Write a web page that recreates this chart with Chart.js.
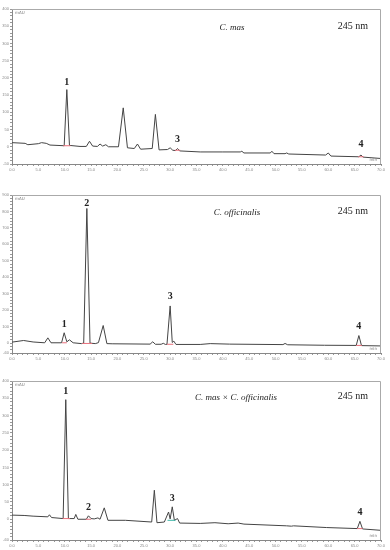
<!DOCTYPE html>
<html>
<head>
<meta charset="utf-8">
<script src="https://cdn.jsdelivr.net/npm/chart.js@4"></script>
<style>
  body { margin: 0; background: #fff; width: 390px; height: 550px; position: relative; overflow: hidden; }
  canvas { position: absolute; left: 0; }
</style>
</head>
<body>
<canvas id="c1" width="390" height="180" style="top:0px"></canvas>
<canvas id="c2" width="390" height="180" style="top:182px"></canvas>
<canvas id="c3" width="390" height="182" style="top:368px"></canvas>
<script>
// retention time (min) and signal (mAU)
const timeMas = [0, 2.5, 3.0, 5.0, 5.6, 6.5, 7.2, 9.9, 10.4, 10.9, 12.9, 14.1, 14.7, 15.3, 16.2, 16.7, 17.2, 17.8, 18.3, 20.2, 21.1, 21.9, 23.2, 23.8, 24.4, 26.6, 27.2, 27.9, 29.5, 30.0, 30.5, 31.0, 31.4, 31.8, 35.7, 40, 43.3, 43.6, 44.0, 49.0, 49.3, 49.7, 51.8, 52.1, 52.5, 59.5, 60.0, 60.5, 65.8, 66.2, 66.6, 70];
const mauMas  = [12, 10, 6, 9, 12, 10, 5, 3, 166, 4, 1, 1, 16, 2, 1, 8, 2, 6, 0, 0, 113, -3, -5, 8, -7, -5, 94, -9, -8, -3, -10, -11, -5, -12, -15, -15, -15, -13, -18, -18, -13, -20, -20, -18, -21, -24, -18, -27, -29, -24, -30, -34];

const timeOff = [0, 2.2, 4.0, 6.2, 6.8, 7.4, 9.4, 9.9, 10.4, 10.9, 11.6, 13.2, 13.6, 14.2, 14.8, 15.8, 16.4, 17.3, 18.0, 19.0, 26.2, 26.7, 27.2, 28.3, 28.7, 29.1, 29.4, 30.0, 30.4, 30.7, 31.1, 35.7, 37.6, 41.3, 51.4, 51.8, 52.3, 59.3, 65.3, 65.8, 66.3, 70];
const mauOff  = [6, 16, 7, 2, 32, 2, 2, 63, 8, 20, 2, -3, 0, 818, 0, -3, 3, 107, -3, -4, -6, 8, -7, -7, -1, -8, -7, 226, 4, 12, -8, -8, -3, -6, -9, -2, -10, -13, -14, 46, -15, -17];

const timeHyb = [0, 2.3, 4.0, 6.8, 7.1, 7.5, 9.7, 10.2, 10.7, 11.8, 12.1, 12.5, 14.1, 14.5, 15.0, 15.6, 16.3, 16.7, 17.5, 18.2, 21.5, 26.5, 27.0, 27.5, 28.9, 29.7, 30.0, 30.4, 30.8, 31.4, 31.8, 35.7, 38.5, 41.0, 42.9, 44.0, 52.1, 53.0, 53.4, 59.7, 65.5, 66.0, 66.5, 70];
const mauHyb  = [12, 11, 9, 7, 13, 5, 2, 346, 2, 2, 14, 0, 0, 10, 2, 1, 4, 0, 33, -3, -3, -8, 84, -10, -8, 21, 1, 36, -3, 2, -11, -12, -10, -13, -11, -14, -19, -20, -19, -24, -27, -6, -28, -32];

// peak numbers, their times and where the number sits (mAU)
const peakIdMas = ["1", "3", "4"];
const peakTimeMas = [10.4, 31.4, 66.2];
const peakTagMas = [188, 22, 8];
const peakIdOff = ["1", "2", "3", "4"];
const peakTimeOff = [9.9, 14.2, 30.0, 65.8];
const peakTagOff = [111, 850, 281, 99];
const peakIdHyb = ["1", "2", "3", "4"];
const peakTimeHyb = [10.2, 14.5, 30.4, 66.0];
const peakTagHyb = [370, 35, 61, 20];

// integration baselines [start, end, level]
const intMas = [[9.7, 11.1, 3], [30.9, 31.9, -10], [65.7, 66.7, -29]];
const intOff = [[9.5, 10.4, 2], [13.3, 15.2, -2], [29.4, 30.6, -7], [65.3, 66.4, -14]];
const intHyb = [[9.6, 11.0, 2], [14.0, 15.0, 0], [29.5, 31.0, -3], [65.5, 66.5, -27]];
const intHybColor = ["#e8707c", "#e8707c", "#3ab5a5", "#e8707c"];

const titles = ["C. mas", "C. officinalis", "C. mas \u00d7 C. officinalis"];

function makePanel(id, times, values, o) {
  const trace = times.map((t, i) => ({ x: t, y: values[i] }));
  const datasets = o.marks.map((m, i) => ({
    data: [{ x: m[0], y: m[2] }, { x: m[1], y: m[2] }],
    borderColor: o.markColors ? o.markColors[i] : "#e8707c",
    borderWidth: 1
  }));
  datasets.push({ data: trace, borderColor: "#444", borderWidth: 1 });

  const deco = {
    id: "deco",
    afterDraw(chart) {
      const ctx = chart.ctx, a = chart.chartArea;
      const xs = chart.scales.x, ys = chart.scales.y;
      ctx.save();
      ctx.strokeStyle = "#aaa";
      ctx.lineWidth = 1;
      ctx.beginPath();
      ctx.moveTo(a.left, a.top + 0.5);
      ctx.lineTo(a.right - 0.5, a.top + 0.5);
      ctx.lineTo(a.right - 0.5, a.bottom);
      ctx.stroke();

      ctx.fillStyle = "#777";
      ctx.font = "4px 'DejaVu Sans'";
      ctx.textBaseline = "middle";
      ctx.textAlign = "left";
      ctx.fillText("mAU", a.left + 3, a.top + 4);
      ctx.textAlign = "right";
      ctx.fillText("min", a.right - 4, a.bottom - 4);

      ctx.fillStyle = "#222";
      ctx.textAlign = "center";
      ctx.font = "italic 9px 'Liberation Serif'";
      ctx.fillText(o.title, a.left + (a.right - a.left) * o.titleX, a.top + o.titleY);
      ctx.font = "10px 'Liberation Serif'";
      ctx.fillText("245 nm", a.left + (a.right - a.left) * 0.924, a.top + o.titleY - 2);

      ctx.font = "bold 10px 'Liberation Serif'";
      o.peakIds.forEach((p, i) => {
        ctx.fillText(p, xs.getPixelForValue(o.peakTimes[i]), ys.getPixelForValue(o.peakTags[i]));
      });
      ctx.restore();
    }
  };

  new Chart(document.getElementById(id), {
    type: "line",
    data: { datasets: datasets },
    options: {
      responsive: false,
      animation: false,
      devicePixelRatio: 1,
      layout: { padding: { top: o.padTop, right: 9, bottom: o.padBottom, left: 0 } },
      elements: { point: { radius: 0 }, line: { tension: 0 } },
      plugins: { legend: { display: false }, tooltip: { enabled: false } },
      scales: {
        x: {
          type: "linear",
          min: 0,
          max: 70,
          afterFit: (s) => { s.height = o.axisH; },
          grid: { drawOnChartArea: false, tickLength: 2, color: "#999" },
          border: { color: "#888" },
          ticks: {
            stepSize: 1,
            maxTicksLimit: 200,
            autoSkip: false,
            maxRotation: 0,
            padding: 1,
            color: "#888",
            font: { size: 4 },
            callback: (v) => (v % 5 === 0 ? v.toFixed(1) : "")
          }
        },
        y: {
          min: o.min,
          max: o.max,
          afterFit: (s) => { s.width = 12; },
          grid: { drawOnChartArea: false, tickLength: 2, color: "#999" },
          border: { color: "#888" },
          ticks: {
            stepSize: o.step,
            maxTicksLimit: 200,
            autoSkip: false,
            padding: 1,
            color: "#888",
            font: { size: 4 },
            callback: (v) => (v === o.min || (v >= 0 && v % o.major === 0) ? String(v) : "")
          }
        }
      }
    },
    plugins: [deco]
  });
}

makePanel("c1", timeMas, mauMas, {
  min: -50, max: 400, step: 10, major: 50, padTop: 9, padBottom: 6, axisH: 10,
  title: titles[0], titleX: 0.596, titleY: 19,
  peakIds: peakIdMas, peakTimes: peakTimeMas, peakTags: peakTagMas, marks: intMas
});
makePanel("c2", timeOff, mauOff, {
  min: -60, max: 900, step: 20, major: 100, padTop: 13, padBottom: 1, axisH: 8,
  title: titles[1], titleX: 0.61, titleY: 18,
  peakIds: peakIdOff, peakTimes: peakTimeOff, peakTags: peakTagOff, marks: intOff
});
makePanel("c3", timeHyb, mauHyb, {
  min: -60, max: 400, step: 10, major: 50, padTop: 13, padBottom: 1, axisH: 9,
  title: titles[2], titleX: 0.607, titleY: 17,
  peakIds: peakIdHyb, peakTimes: peakTimeHyb, peakTags: peakTagHyb, marks: intHyb, markColors: intHybColor
});
</script>
</body>
</html>
